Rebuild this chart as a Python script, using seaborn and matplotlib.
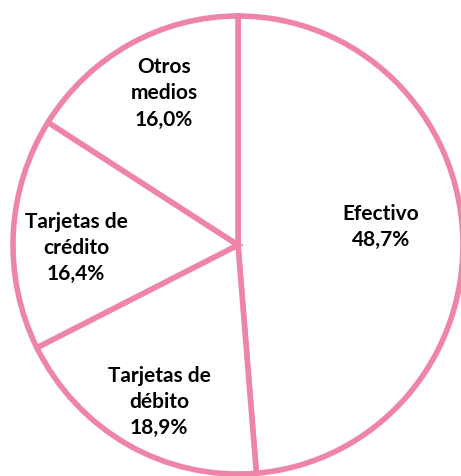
import numpy as np
import seaborn as sns
import matplotlib.pyplot as plt

# medios de pago (%), en sentido horario desde arriba
categorias = ["Efectivo", "Tarjetas de\ndébito", "Tarjetas de\ncrédito", "Otros\nmedios"]
porcentajes = [48.7, 18.9, 16.4, 16.0]

# ubicacion de las etiquetas (fraccion del radio, ajuste de angulo en grados)
label_r = [0.64, 0.77, 0.72, 0.74]
label_dang = [4.7, 2.3, 3.9, -2.4]

pink = "#EF84AB"

sns.set_style("white")
plt.rcParams["font.family"] = ["Lato", "DejaVu Sans"]

fig = plt.figure(figsize=(4.61, 4.76), dpi=100)
ax = fig.add_axes([13 / 461, 2 / 476, 450 / 461, 458 / 476])

wedges, _ = ax.pie(porcentajes, startangle=90, counterclock=False,
                   colors=["white"] * len(porcentajes),
                   wedgeprops=dict(edgecolor=pink, linewidth=4))

for w, cat, val, r, da in zip(wedges, categorias, porcentajes, label_r, label_dang):
    ang = np.deg2rad((w.theta1 + w.theta2) / 2 + da)
    txt = f"{cat}\n{val:.1f}%".replace(".", ",")
    ax.text(r * np.cos(ang), r * np.sin(ang), txt, ha="center", va="center",
            fontsize=15, fontweight="bold", color="black", linespacing=1.4)

ax.set_xlim(-1, 1)
ax.set_ylim(-1, 1)
ax.set_aspect("auto")
ax.axis("off")

fig.savefig("out.png", dpi=100)
plt.close()
